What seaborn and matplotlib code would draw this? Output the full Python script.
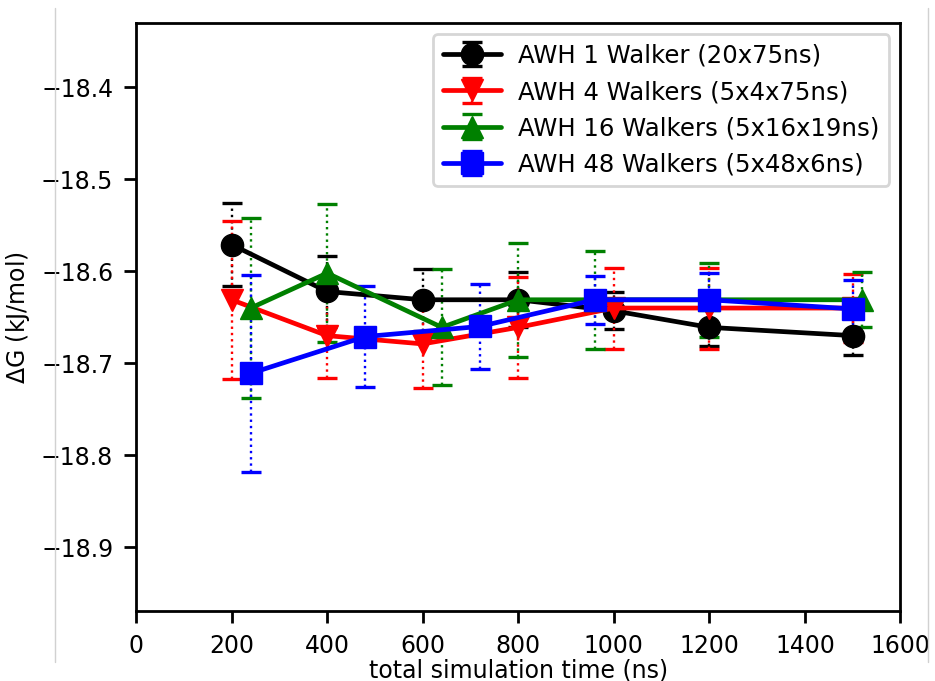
import seaborn as sns
import matplotlib.pyplot as plt
from matplotlib.lines import Line2D

# ΔG vs total simulation time
x_1w = [200, 400, 600, 800, 1000, 1200, 1500]
dg_1w = [-18.571, -18.622, -18.631, -18.631, -18.643, -18.661, -18.670]
err_1w = [0.045, 0.039, 0.034, 0.030, 0.020, 0.020, 0.021]

x_4w = [200, 400, 600, 800, 1000, 1200, 1500]
dg_4w = [-18.631, -18.670, -18.679, -18.661, -18.640, -18.640, -18.640]
err_4w = [0.086, 0.046, 0.048, 0.055, 0.044, 0.044, 0.037]

x_16w = [240, 400, 640, 800, 960, 1200, 1520]
dg_16w = [-18.640, -18.602, -18.661, -18.631, -18.631, -18.631, -18.631]
err_16w = [0.098, 0.075, 0.063, 0.062, 0.053, 0.040, 0.030]

x_48w = [240, 480, 720, 960, 1200, 1500]
dg_48w = [-18.711, -18.671, -18.660, -18.631, -18.631, -18.641]
err_48w = [0.107, 0.055, 0.046, 0.026, 0.029, 0.032]

labels = ["AWH 1 Walker (20x75ns)", "AWH 4 Walkers (5x4x75ns)",
          "AWH 16 Walkers (5x16x19ns)", "AWH 48 Walkers (5x48x6ns)"]
colors = ["black", "red", "green", "blue"]
markers = ["o", "v", "^", "s"]

sns.set_style("ticks", rc={
    "axes.edgecolor": "black",
    "text.color": "black",
    "axes.labelcolor": "black",
    "xtick.color": "black",
    "ytick.color": "black",
})
plt.rcParams["font.family"] = ["DejaVu Sans"]
plt.rcParams["axes.linewidth"] = 2

fig = plt.figure(figsize=(9.35, 6.81), dpi=100)
ax = fig.add_axes([0.1455, 0.1021, 0.8176, 0.8641])

data = [(x_1w, dg_1w, err_1w), (x_4w, dg_4w, err_4w),
        (x_16w, dg_16w, err_16w), (x_48w, dg_48w, err_48w)]

for (x, y, e), lab, c, m in zip(data, labels, colors, markers):
    eb = ax.errorbar(x, y, yerr=e, color=c, marker=m, ms=16, lw=3.4,
                     capsize=7.5, capthick=2.4, elinewidth=1.7, label=lab)
    eb[-1][0].set_linestyle(":")

ax.set_xlim(0, 1600)
ax.set_ylim(-18.97, -18.33)
ax.set_xticks(range(0, 1601, 200))
ax.set_yticks([-18.4, -18.5, -18.6, -18.7, -18.8, -18.9])
ax.tick_params(length=8.5, width=2, pad=8, labelsize=17, direction="out")
for s in ax.spines.values():
    s.set_linewidth(2)

ax.set_xlabel("total simulation time (ns)", fontsize=17, labelpad=0)
ax.set_ylabel(r"$\Delta$G (kJ/mol)", fontsize=17, labelpad=6)

leg = ax.legend(loc="upper right", fontsize=17.6, handlelength=2.4,
                handletextpad=0.7, borderaxespad=0.45, frameon=True,
                fancybox=True, framealpha=0.8)
leg.get_frame().set_edgecolor("0.8")
leg.get_frame().set_linewidth(2)

# faint page-crop borders seen in the original
for xp in (55, 928):
    fig.add_artist(Line2D([xp / 935, xp / 935], [1 - 8 / 681, 1 - 662 / 681],
                          color="0.82", lw=1))

fig.savefig("out.png", dpi=100)
